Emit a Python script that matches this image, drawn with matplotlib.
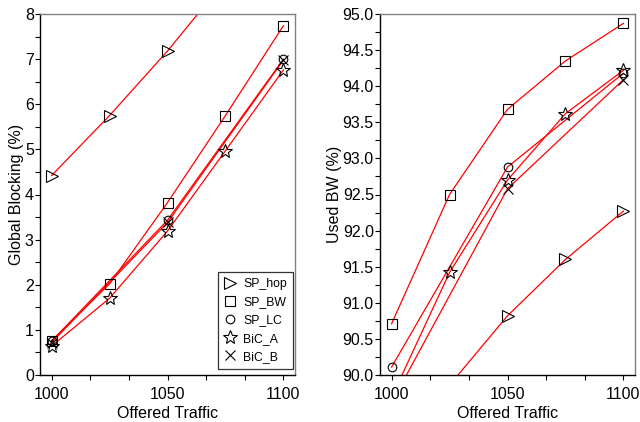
import matplotlib
matplotlib.use("Agg")
import matplotlib.pyplot as plt
from matplotlib.lines import Line2D
from matplotlib.ticker import MultipleLocator, FixedLocator, FormatStrFormatter
import numpy as np

plt.rcParams['font.family'] = ['Liberation Sans', 'DejaVu Sans']

# ---- data ----
series = ["SP_hop", "SP_BW", "SP_LC", "BiC_A", "BiC_B"]
x5 = [1000, 1025, 1050, 1075, 1100]
x3 = [1000, 1050, 1100]

blk_sp_hop = [4.42, 5.75, 7.18, 8.75, 10.3]
blk_sp_bw = [0.76, 2.02, 3.82, 5.75, 7.74]
blk_sp_lc = [0.75, 3.43, 7.00]
blk_bic_a = [0.64, 1.70, 3.19, 4.97, 6.76]
blk_bic_b = [0.72, 3.38, 6.98]

bw_sp_hop = [88.8, 89.86, 90.82, 91.60, 92.27]
bw_sp_bw = [90.71, 92.50, 93.68, 94.35, 94.87]
bw_sp_lc = [90.11, 92.88, 94.18]
bw_bic_a = [89.69, 91.42, 92.70, 93.62, 94.22]
bw_bic_b = [89.62, 92.58, 94.09]

xticks = [1000, 1050, 1100]

markers = {"SP_hop": ">", "SP_BW": "s", "SP_LC": "o", "BiC_A": "*", "BiC_B": "x"}
msizes = {"SP_hop": 8, "SP_BW": 6.8, "SP_LC": 6.2, "BiC_A": 10.5, "BiC_B": 7.5}

fig = plt.figure(figsize=(6.4, 4.22), dpi=100)
axL = fig.add_axes([40/640, 1-375/422, 255/640, 361/422])
axR = fig.add_axes([380/640, 1-375/422, 255/640, 361/422])

def draw(ax, data):
    for name, (xs, ys) in zip(series, data):
        ax.plot(xs, ys, color='#ff0000', lw=0.9, zorder=2)
        ax.plot(xs, ys, linestyle='none', marker=markers[name], ms=msizes[name],
                mfc='none', mec='black', mew=0.8, zorder=3, clip_on=True)

draw(axL, [(x5, blk_sp_hop), (x5, blk_sp_bw), (x3, blk_sp_lc), (x5, blk_bic_a), (x3, blk_bic_b)])
draw(axR, [(x5, bw_sp_hop), (x5, bw_sp_bw), (x3, bw_sp_lc), (x5, bw_bic_a), (x3, bw_bic_b)])

for ax in (axL, axR):
    ax.set_xlim(995, 1105)
    ax.set_xticks(xticks)
    ax.xaxis.set_minor_locator(FixedLocator(list(np.arange(1000, 1101, 50/3))))
    ax.tick_params(which='both', direction='out', length=3.5, width=0.8, labelsize=11.5)
    ax.tick_params(axis='x', which='both', pad=5)
    ax.tick_params(axis='y', which='both', pad=1)
    ax.set_xlabel("Offered Traffic", fontsize=11.5, labelpad=3)
    ax.spines['left'].set_color('black')
    ax.spines['bottom'].set_color('black')
    ax.spines['top'].set_color('#808080')
    ax.spines['right'].set_color('#808080')
    for s in ax.spines.values():
        s.set_linewidth(1.0)
    ax.tick_params(top=False, right=False)

axL.set_ylim(0, 8)
axL.yaxis.set_major_locator(MultipleLocator(1))
axL.yaxis.set_minor_locator(MultipleLocator(0.5))
axL.set_ylabel("Global Blocking (%)", fontsize=11.5, labelpad=0.5)

axR.set_ylim(90, 95)
axR.yaxis.set_major_locator(MultipleLocator(0.5))
axR.yaxis.set_minor_locator(MultipleLocator(0.25))
axR.yaxis.set_major_formatter(FormatStrFormatter('%.1f'))
axR.set_ylabel("Used BW (%)", fontsize=11.5, labelpad=0)

handles = [Line2D([], [], linestyle='none', marker=markers[n], ms=msizes[n],
                  mfc='none', mec='black', mew=0.8) for n in series]
leg = axL.legend(handles, series, loc='lower right', bbox_to_anchor=(0.993, 0.017),
                 fontsize=8.8, frameon=True, fancybox=False, edgecolor='black',
                 handlelength=1.0, handletextpad=0.6, borderpad=0.5,
                 labelspacing=0.5, borderaxespad=0)
leg.get_frame().set_linewidth(0.9)

fig.savefig("out.png", dpi=100)
